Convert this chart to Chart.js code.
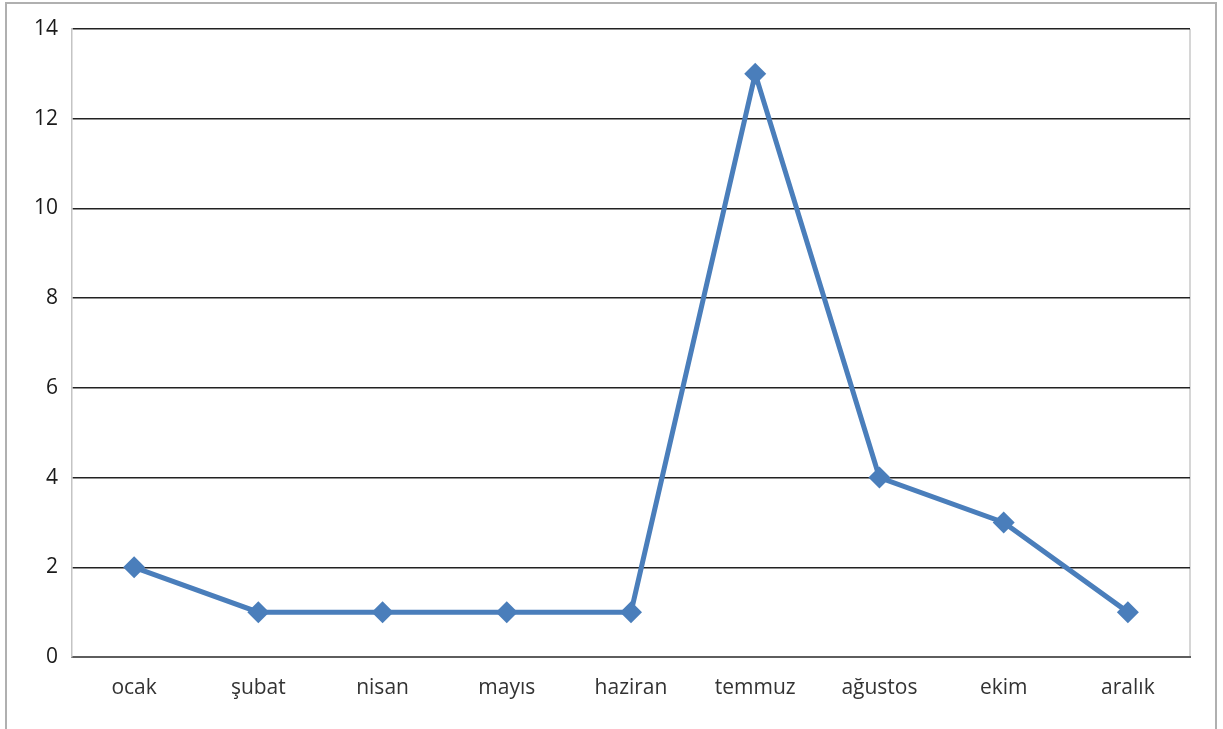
<!DOCTYPE html>
<html>
<head>
<meta charset="utf-8">
<script src="https://cdn.jsdelivr.net/npm/chart.js@4/dist/chart.umd.min.js"></script>
<style>
  html, body { margin: 0; padding: 0; background: #fff; }
  #wrap { width: 1223px; height: 729px; position: relative; }
</style>
</head>
<body>
<div id="wrap"><canvas id="LineChart"></canvas></div>
<script>
const months = ['ocak', 'şubat', 'nisan', 'mayıs', 'haziran', 'temmuz', 'ağustos', 'ekim', 'aralık'];
const counts = [2, 1, 1, 1, 1, 13, 4, 3, 1];
const yMax = 14;
const yStep = 2;

const lineColor = '#4a7ebb';

// outer frame and the light plot-area border on the right
const framePlugin = {
  id: 'frame',
  beforeDraw(chart) {
    const { ctx, chartArea } = chart;
    ctx.save();
    ctx.strokeStyle = '#b0b0b0';
    ctx.lineWidth = 2;
    ctx.beginPath();
    ctx.moveTo(6, 729);
    ctx.lineTo(6, 3);
    ctx.lineTo(1216, 3);
    ctx.lineTo(1216, 729);
    ctx.stroke();
    ctx.strokeStyle = '#c8c8c8';
    ctx.lineWidth = 1.5;
    ctx.beginPath();
    ctx.moveTo(chartArea.right, chartArea.top);
    ctx.lineTo(chartArea.right, chartArea.bottom);
    ctx.stroke();
    ctx.restore();
  },
};

const config = {
  type: 'line',
  data: {
    labels: months,
    datasets: [{
      data: counts,
      borderColor: lineColor,
      backgroundColor: lineColor,
      borderWidth: 5,
      pointStyle: 'rectRot',
      pointRadius: 11,
      pointBorderWidth: 0,
      tension: 0,
    }],
  },
  options: {
    responsive: true,
    maintainAspectRatio: false,
    animation: false,
    layout: { padding: { left: 0, right: 33, top: 29, bottom: 0 } },
    plugins: {
      legend: { display: false },
      tooltip: { enabled: false },
    },
    scales: {
      x: {
        offset: true,
        grid: { display: false, drawTicks: false },
        border: { color: '#5e5e5e', width: 2 },
        ticks: {
          color: '#333333',
          padding: 18,
          maxRotation: 0,
          font: { family: 'Open Sans', size: 21 },
        },
        afterFit: (scale) => { scale.height = 72; },
      },
      y: {
        min: 0,
        max: yMax,
        grid: { color: '#222222', lineWidth: 1.5, drawTicks: false },
        border: { color: '#c4c4c4', width: 1.5 },
        ticks: {
          stepSize: yStep,
          color: '#1a1a1a',
          padding: 14,
          font: { family: 'Open Sans', size: 21 },
        },
        afterFit: (scale) => { scale.width = 72; },
      },
    },
  },
  plugins: [framePlugin],
};

new Chart(document.getElementById('LineChart'), config);
</script>
</body>
</html>
